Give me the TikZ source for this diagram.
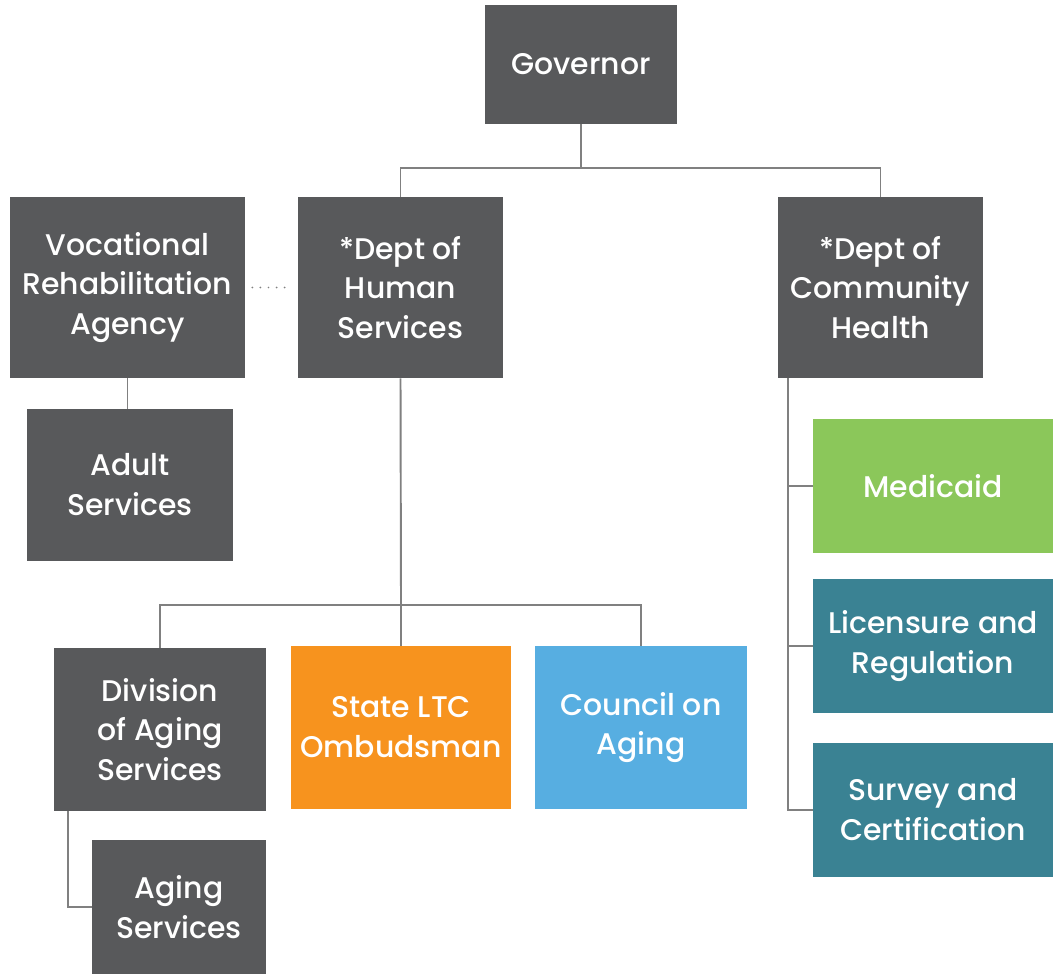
\documentclass[tikz,border=0pt]{standalone}
\usepackage{fontspec}
\setmainfont{Poppins}[UprightFont=* Medium]
\usetikzlibrary{positioning}
\definecolor{boxgray}{HTML}{58595B}
\definecolor{linkgray}{HTML}{808080}
\definecolor{medgreen}{HTML}{8BC75A}
\definecolor{regteal}{HTML}{3A8293}
\definecolor{ltcorange}{HTML}{F7931E}
\definecolor{coablue}{HTML}{57AEE1}

\begin{document}
\begin{tikzpicture}[x=0.02cm,y=-0.02cm,
	unit/.style={fill=boxgray, text=white, align=center, inner sep=0pt,
		font=\fontsize{17}{22.7}\selectfont},
	link/.style={draw=linkgray, line width=1.1pt}]
	\useasboundingbox (0,0) rectangle (1053,974);
	
	% top level
	\node [unit, minimum width=3.84cm, minimum height=2.38cm] (gov) at (581,64.5) {Governor};
	\node [unit, minimum width=4.7cm, minimum height=3.62cm] (voc) at (127.5,287.5) {Vocational\\Rehabilitation\\Agency};
	\node [unit, minimum width=4.1cm, minimum height=3.62cm] (dhs) at (400.5,287.5) {*Dept of\\Human\\Services};
	\node [unit, minimum width=4.1cm, minimum height=3.62cm] (dch) at (880.5,287.5) {*Dept of\\Community\\Health};
	\node [unit, minimum width=4.12cm, minimum height=3.04cm] (adult) at (130,485) {Adult\\Services};
	
	% community health
	\node [unit, fill=medgreen, minimum width=4.8cm, minimum height=2.68cm] (medicaid) at (933,486) {Medicaid};
	\node [unit, fill=regteal, minimum width=4.8cm, minimum height=2.68cm] (licensure) at (933,646) {Licensure and\\Regulation};
	\node [unit, fill=regteal, minimum width=4.8cm, minimum height=2.68cm] (survey) at (933,810) {Survey and\\Certification};
	
	% human services
	\node [unit, minimum width=4.24cm, minimum height=3.26cm] (division) at (160,729.5) {Division\\of Aging\\Services};
	\node [unit, fill=ltcorange, minimum width=4.4cm, minimum height=3.26cm] (ltc) at (401,727.5) {State LTC\\Ombudsman};
	\node [unit, fill=coablue, minimum width=4.24cm, minimum height=3.26cm] (council) at (641,727.5) {Council on\\Aging};
	\node [unit, minimum width=3.48cm, minimum height=2.68cm] (aging) at (179,907) {Aging\\Services};
	
	\coordinate (top) at (581,168);
	\coordinate (mid) at (401,605);
	
	\draw [link] (gov.south) -- (top);
	\draw [link] (dhs.north) |- (top) -| (dch.north);
	\draw [link, dash pattern=on 0pt off 4.6pt, line cap=round, shorten <=4pt, shorten >=3pt] (voc.east) -- (dhs.west);
	\draw [link] (voc.south) -- (voc.south |- adult.north);
	
	\draw [link] (dhs.south) -- (mid);
	\draw [link] (division.north) |- (mid) -| (council.north);
	\draw [link] (mid) -- (ltc.north);
	\draw [link] ([xshift=0.28cm]division.south west) |- (aging.west);
	
	\draw [link] ([xshift=0.2cm]dch.south west) coordinate (trunk) |- (survey.west);
	\draw [link] (trunk |- medicaid.west) -- (medicaid.west);
	\draw [link] (trunk |- licensure.west) -- (licensure.west);
\end{tikzpicture}
\end{document}
